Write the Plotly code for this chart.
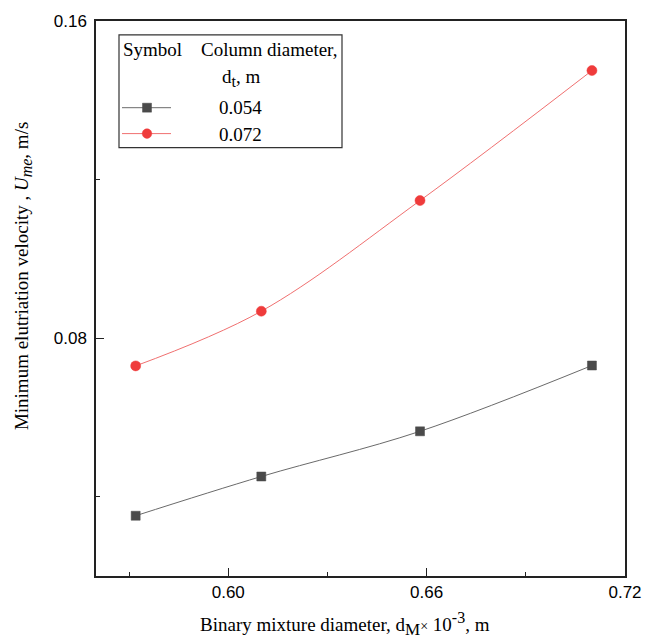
import plotly.graph_objects as go

# ---- data ----
diameter_x = [0.572, 0.610, 0.658, 0.710]
series_054 = [0.0352, 0.0451, 0.0565, 0.0731]
series_072 = [0.0730, 0.0868, 0.1147, 0.1475]
series_names = ["0.054", "0.072"]
x_tick_vals = [0.60, 0.66, 0.72]
x_tick_labels = ["0.60", "0.66", "0.72"]
y_tick_vals = [0.08, 0.16]
y_tick_labels = ["0.08", "0.16"]

W, H = 655, 639
L, R, T, B = 96, 30, 19, 63
PW, PH = W - L - R, H - T - B


def px(x):
    return (x - L) / PW


def py(y):
    return (H - B - y) / PH


serif = "Liberation Serif, Times New Roman, serif"
sans = "Liberation Sans, Arial, sans-serif"

fig = go.Figure()
fig.add_trace(go.Scatter(
    x=diameter_x, y=series_054, mode="lines+markers", name=series_names[0],
    line=dict(color="#6a6a6a", width=1, shape="spline", smoothing=1.0),
    marker=dict(symbol="square", size=9, color="#4a4a4a",
                line=dict(color="#4a4a4a", width=0.5)),
    showlegend=False,
))
fig.add_trace(go.Scatter(
    x=diameter_x, y=series_072, mode="lines+markers", name=series_names[1],
    line=dict(color="#f07070", width=1, shape="spline", smoothing=1.0),
    marker=dict(symbol="circle", size=10, color="#ef3b3b",
                line=dict(color="#ef3b3b", width=0.5)),
    showlegend=False,
))

shapes = []
# legend box
shapes.append(dict(type="rect", xref="paper", yref="paper",
                   x0=px(119), x1=px(342), y0=py(146), y1=py(33),
                   line=dict(color="#333333", width=1.2), fillcolor="white"))
# legend symbols
shapes.append(dict(type="line", xref="paper", yref="paper",
                   x0=px(122), x1=px(171), y0=py(106), y1=py(106),
                   line=dict(color="#6a6a6a", width=1)))
shapes.append(dict(type="rect", xref="paper", yref="paper",
                   x0=px(142.5), x1=px(151.5), y0=py(110.5), y1=py(101.5),
                   line=dict(color="#4a4a4a", width=0.5), fillcolor="#4a4a4a"))
shapes.append(dict(type="line", xref="paper", yref="paper",
                   x0=px(122), x1=px(171), y0=py(132), y1=py(132),
                   line=dict(color="#f07070", width=1)))
shapes.append(dict(type="circle", xref="paper", yref="paper",
                   x0=px(142.2), x1=px(151.8), y0=py(136.8), y1=py(127.2),
                   line=dict(color="#ef3b3b", width=0.5), fillcolor="#ef3b3b"))

ann = []
lf = dict(family=serif, size=19, color="black")
sub_t = "<sub><span style='font-size:16px'>t</span></sub>"
sub_M = "<sub><span style='font-size:17px'>M</span></sub>"
sup_3 = "<sup><span style='font-size:16px'>-3</span></sup>"
sub_me = "<sub><span style='font-size:16px'>me</span></sub>"

ann.append(dict(text="Symbol", x=px(152.5), y=py(48), xref="paper", yref="paper",
                showarrow=False, font=lf, xanchor="center", yanchor="middle"))
ann.append(dict(text="Column diameter,", x=px(269), y=py(48), xref="paper", yref="paper",
                showarrow=False, font=lf, xanchor="center", yanchor="middle"))
ann.append(dict(text="d" + sub_t + ", m", x=px(241), y=py(76), xref="paper", yref="paper",
                showarrow=False, font=lf, xanchor="center", yanchor="middle"))
ann.append(dict(text=series_names[0], x=px(240), y=py(106), xref="paper", yref="paper",
                showarrow=False, font=lf, xanchor="center", yanchor="middle"))
ann.append(dict(text=series_names[1], x=px(240), y=py(132.5), xref="paper", yref="paper",
                showarrow=False, font=lf, xanchor="center", yanchor="middle"))
# axis titles
ann.append(dict(text="Binary mixture diameter, d" + sub_M + "<span style='font-size:14px'>×</span> 10"
                + sup_3 + ", m",
                x=px(345), y=py(624), xref="paper", yref="paper",
                showarrow=False, font=lf, xanchor="center", yanchor="middle"))
ann.append(dict(text="Minimum elutriation velocity , <i>U" + sub_me + "</i>, m/s",
                x=px(23), y=py(275), xref="paper", yref="paper", textangle=-90,
                showarrow=False, font=lf, xanchor="center", yanchor="middle"))

axis_common = dict(
    showgrid=False, zeroline=False, showline=True, linecolor="#222222", linewidth=1.5,
    mirror=True, ticks="inside", ticklen=8, tickwidth=1.2, tickcolor="#222222",
    tickfont=dict(family=sans, size=17, color="black"),
)

fig.update_layout(
    width=W, height=H,
    margin=dict(l=L, r=R, t=T, b=B, pad=0),
    paper_bgcolor="white", plot_bgcolor="white",
    xaxis=dict(range=[0.56, 0.72], tickmode="array", tickvals=x_tick_vals,
               ticktext=x_tick_labels,
               minor=dict(tickvals=[0.57, 0.63, 0.69], ticks="inside", ticklen=4,
                          tickwidth=1.2, tickcolor="#222222"),
               **axis_common),
    yaxis=dict(range=[0.02, 0.16], tickmode="array", tickvals=y_tick_vals,
               ticktext=y_tick_labels, ticklabelstandoff=4,
               minor=dict(tickvals=[0.04, 0.12], ticks="inside", ticklen=4,
                          tickwidth=1.2, tickcolor="#222222"),
               **axis_common),
    shapes=shapes, annotations=ann, showlegend=False,
)

fig.write_html("out.html")
